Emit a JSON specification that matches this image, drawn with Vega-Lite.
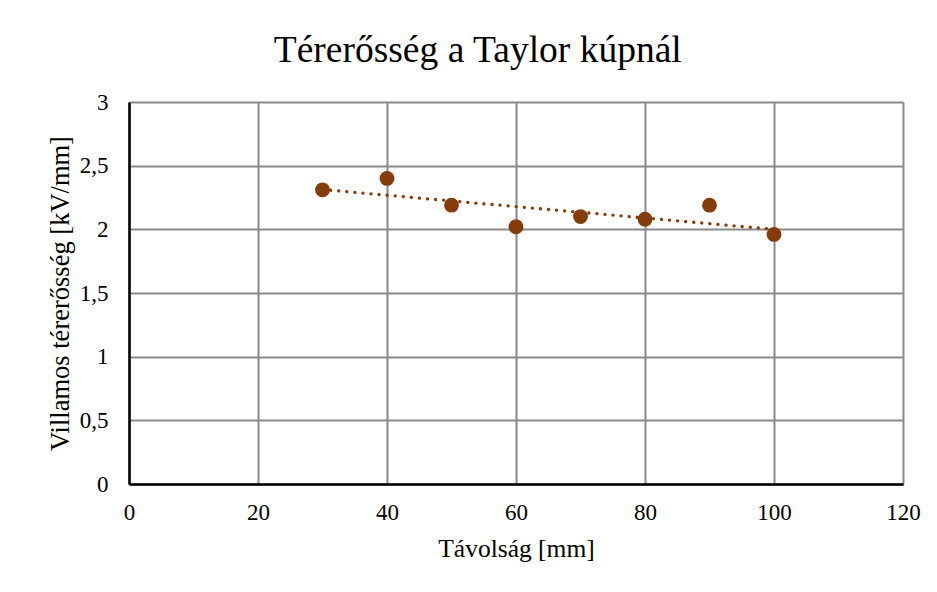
{
  "$schema": "https://vega.github.io/schema/vega-lite/v6.json",
  "width": 774,
  "height": 382,
  "autosize": {"type": "none"},
  "padding": {"left": 129, "top": 102, "right": 34, "bottom": 108},
  "background": "white",
  "title": {
    "text": "Térerősség a Taylor kúpnál",
    "font": "Liberation Serif",
    "fontSize": 37.5,
    "fontWeight": "normal",
    "color": "black",
    "anchor": "middle",
    "frame": "bounds",
    "baseline": "alphabetic",
    "offset": -8,
    "dx": -6
  },
  "data": {
    "values": [
      {"x": 30, "y": 2.31},
      {"x": 40, "y": 2.40},
      {"x": 50, "y": 2.19},
      {"x": 60, "y": 2.02},
      {"x": 70, "y": 2.10},
      {"x": 80, "y": 2.08},
      {"x": 90, "y": 2.19},
      {"x": 100, "y": 1.96}
    ]
  },
  "config": {
    "view": {"stroke": null},
    "axis": {
      "labelFont": "Liberation Serif",
      "titleFont": "Liberation Serif",
      "labelFontSize": 23,
      "titleFontSize": 25.5,
      "titleFontWeight": "normal",
      "labelColor": "black",
      "titleColor": "black",
      "gridColor": "#8a8a8a",
      "gridWidth": 2,
      "gridOpacity": 1,
      "domainColor": "black",
      "domainWidth": 2.5,
      "ticks": false
    }
  },
  "layer": [
    {
      "mark": {"type": "line", "color": "#843C0C", "strokeWidth": 3.3, "strokeDash": [0.1, 8], "strokeCap": "round"},
      "transform": [{"regression": "y", "on": "x"}],
      "encoding": {
        "x": {"field": "x", "type": "quantitative"},
        "y": {"field": "y", "type": "quantitative"}
      }
    },
    {
      "mark": {"type": "point", "filled": true, "opacity": 1, "color": "#843C0C", "size": 220},
      "encoding": {
        "x": {
          "field": "x",
          "type": "quantitative",
          "scale": {"domain": [0, 120], "nice": false},
          "axis": {"values": [0, 20, 40, 60, 80, 100, 120], "title": "Távolság [mm]", "labelPadding": 17, "titlePadding": 12, "labelFlush": false}
        },
        "y": {
          "field": "y",
          "type": "quantitative",
          "scale": {"domain": [0, 3], "nice": false},
          "axis": {"values": [0, 0.5, 1, 1.5, 2, 2.5, 3], "title": "Villamos térerősség [kV/mm]", "titleFontSize": 26.5, "labelPadding": 21, "titlePadding": 5, "labelExpr": "replace(format(datum.value, '~g'), '.', ',')", "labelFlush": false}
        }
      }
    }
  ]
}
